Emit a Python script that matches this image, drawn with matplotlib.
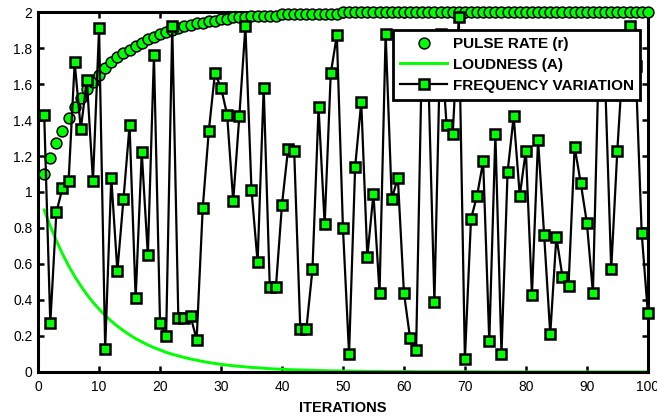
import numpy as np
import matplotlib.pyplot as plt
from matplotlib.ticker import FormatStrFormatter

plt.rcParams['font.family'] = ['Liberation Sans', 'DejaVu Sans']

iterations = np.arange(1, 101)

pulse_rate = [1.10, 1.19, 1.27, 1.34, 1.41, 1.47, 1.52, 1.57, 1.61, 1.65,
              1.69, 1.72, 1.75, 1.77, 1.79, 1.81, 1.83, 1.85, 1.86, 1.88,
              1.89, 1.90, 1.91, 1.92, 1.93, 1.94, 1.94, 1.95, 1.95, 1.96,
              1.96, 1.97, 1.97, 1.97, 1.98, 1.98, 1.98, 1.98, 1.98, 1.99,
              1.99, 1.99, 1.99, 1.99, 1.99, 1.99, 1.99, 1.99, 1.99, 2.00,
              2.00, 2.00, 2.00, 2.00, 2.00, 2.00, 2.00, 2.00, 2.00, 2.00,
              2.00, 2.00, 2.00, 2.00, 2.00, 2.00, 2.00, 2.00, 2.00, 2.00,
              2.00, 2.00, 2.00, 2.00, 2.00, 2.00, 2.00, 2.00, 2.00, 2.00,
              2.00, 2.00, 2.00, 2.00, 2.00, 2.00, 2.00, 2.00, 2.00, 2.00,
              2.00, 2.00, 2.00, 2.00, 2.00, 2.00, 2.00, 2.00, 2.00, 2.00]

loudness = [0.900, 0.810, 0.729, 0.656, 0.590, 0.531, 0.478, 0.430, 0.387, 0.349,
            0.314, 0.282, 0.254, 0.229, 0.206, 0.185, 0.167, 0.150, 0.135, 0.122,
            0.109, 0.098, 0.089, 0.080, 0.072, 0.065, 0.058, 0.052, 0.047, 0.042,
            0.038, 0.034, 0.031, 0.028, 0.025, 0.023, 0.020, 0.018, 0.016, 0.015,
            0.013, 0.012, 0.011, 0.010, 0.009, 0.008, 0.007, 0.006, 0.006, 0.005,
            0.005, 0.004, 0.004, 0.003, 0.003, 0.003, 0.002, 0.002, 0.002, 0.002,
            0.002, 0.001, 0.001, 0.001, 0.001, 0.001, 0.001, 0.001, 0.001, 0.001,
            0.001, 0.001, 0.000, 0.000, 0.000, 0.000, 0.000, 0.000, 0.000, 0.000,
            0.000, 0.000, 0.000, 0.000, 0.000, 0.000, 0.000, 0.000, 0.000, 0.000,
            0.000, 0.000, 0.000, 0.000, 0.000, 0.000, 0.000, 0.000, 0.000, 0.000]

freq_variation = [1.43, 0.27, 0.89, 1.02, 1.06, 1.72, 1.35, 1.62, 1.06, 1.91,
                  0.13, 1.08, 0.56, 0.96, 1.37, 0.41, 1.22, 0.65, 1.76, 0.27,
                  0.20, 1.92, 0.30, 0.30, 0.31, 0.18, 0.91, 1.34, 1.66, 1.58,
                  1.43, 0.95, 1.42, 1.92, 1.01, 0.61, 1.58, 0.47, 0.47, 0.93,
                  1.24, 1.23, 0.24, 0.24, 0.57, 1.47, 0.82, 1.66, 1.87, 0.80,
                  0.10, 1.14, 1.50, 0.64, 0.99, 0.44, 1.88, 0.96, 1.08, 0.44,
                  0.19, 0.12, 1.85, 1.65, 0.39, 1.88, 1.37, 1.32, 1.97, 0.07,
                  0.85, 0.98, 1.17, 0.17, 1.32, 0.10, 1.11, 1.42, 0.98, 1.23,
                  0.43, 1.29, 0.76, 0.21, 0.75, 0.53, 0.48, 1.25, 1.05, 0.83,
                  0.44, 1.80, 1.62, 0.57, 1.23, 1.78, 1.92, 1.70, 0.77, 0.33]

green = '#00ff00'

fig = plt.figure(figsize=(6.57, 4.16), dpi=100)
ax = fig.add_axes([0.058, 0.106, 0.928, 0.865])

ax.plot(iterations, pulse_rate, 'o', color=green, mec='k', mew=1.1, ms=7.8,
        label='PULSE RATE (r)', clip_on=False, zorder=3)
ax.plot(iterations, loudness, '-', color=green, lw=2.1,
        label='LOUDNESS (A)', zorder=2)
ax.plot(iterations, freq_variation, '-s', color='k', lw=1.6, mfc=green,
        mec='k', mew=1.8, ms=6.5, label='FREQUENCY VARIATION', clip_on=False,
        zorder=4)

ax.set_xlim(0, 100)
ax.set_ylim(0, 2)
ax.set_xticks(np.arange(0, 101, 10))
ax.set_yticks(np.arange(0, 2.01, 0.2))
ax.yaxis.set_major_formatter(FormatStrFormatter('%g'))
ax.tick_params(direction='in', length=4, width=1.8, top=True, right=True,
               labelsize=10)
ax.tick_params(axis='x', pad=6)
ax.tick_params(axis='y', pad=4)
for s in ax.spines.values():
    s.set_linewidth(2.2)
ax.set_xlabel('ITERATIONS', fontsize=10.5, fontweight='bold', labelpad=5)

leg = ax.legend(loc='upper right', bbox_to_anchor=(0.988, 0.95),
                borderaxespad=0, fancybox=False, framealpha=1,
                edgecolor='k', prop={'weight': 'bold', 'size': 11},
                handlelength=3.1, handletextpad=0.35, labelspacing=0.45,
                borderpad=0.45)
leg.get_frame().set_linewidth(2.0)
leg.set_zorder(10)

plt.savefig('out.png', dpi=100)
plt.close()
